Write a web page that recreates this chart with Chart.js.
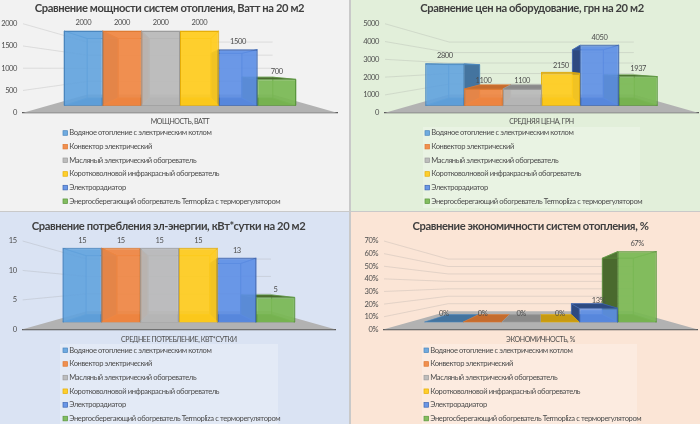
<!DOCTYPE html>
<html><head><meta charset="utf-8">
<script src="https://cdn.jsdelivr.net/npm/chart.js@4"></script>
<style>
html,body{margin:0;padding:0;width:700px;height:424px;overflow:hidden;background:#fff}
.p{position:absolute;overflow:hidden;width:350px;height:212px}
.p canvas{position:absolute;left:0;top:0;filter:blur(0.3px)}
.sep{position:absolute;background:#C9C9C9}
</style></head><body>
<div class="p" style="left:0;top:0;background:#F2F2F2"><canvas id="c1"></canvas></div>
<div class="p" style="left:350px;top:0;background:#E2EFDA"><canvas id="c2"></canvas></div>
<div class="p" style="left:0;top:212px;background:#DAE3F3"><canvas id="c3"></canvas></div>
<div class="p" style="left:350px;top:212px;background:#FBE5D6"><canvas id="c4"></canvas></div>
<div class="sep" style="left:349px;top:0;width:2px;height:424px"></div>
<div class="sep" style="left:0;top:211px;width:700px;height:1px"></div>
<script>
const seriesNames = [
  'Водяное отопление с электрическим котлом',
  'Конвектор электрический',
  'Масляный электрический обогреватель',
  'Коротковолновой инфракрасный обогреватель',
  'Электрорадиатор',
  'Энергосберегающий обогреватель Termopliza с терморегулятором'
];
const powerValues = [2000, 2000, 2000, 2000, 1500, 700];
const priceValues = [2800, 1100, 1100, 2150, 4050, 1937];
const energyValues = [15, 15, 15, 15, 13, 5];
const savingValues = [0, 0, 0, 0, 13, 67];

const fillColors = ['rgba(98,163,222,.9)','rgba(240,135,66,.92)','rgba(184,184,184,.92)','rgba(255,204,28,.92)','rgba(92,142,230,.9)','rgba(122,184,84,.92)'];
const edgeColors = ['#4A86BE','#DE7A32','#9C9C9C','#E6AE08','#3D66B2','#5B963E'];
const darkColors = ['#44749F','#C56C2E','#8A8A8A','#C79A12','#2E4A80','#4A6A2E'];
const FONT = 'Lato, "Open Sans", sans-serif';
const TEXT = '#4D4D4D';

const panels = [
 {id:'c1',title:'Сравнение мощности систем отопления, Ватт на 20 м2',axis:'МОЩНОСТЬ, ВАТТ',values:powerValues,max:2000,step:500,suffix:'',
  titleCx:169.5,left:23,right:337,top:23.7,bottom:112.7,labelGap:4.5,titleY:8.5,rowY:133,swX:63,box:null},
 {id:'c2',title:'Сравнение цен на оборудование, грн на 20 м2',axis:'СРЕДНЯЯ ЦЕНА, ГРН',values:priceValues,max:5000,step:1000,suffix:'',
  titleCx:182,left:35,right:348,top:23.7,bottom:112.7,labelGap:4.5,titleY:8.7,rowY:133,swX:75,box:[73,127,217,81]},
 {id:'c3',title:'Сравнение потребления эл-энергии, кВт*сутки на 20 м2',axis:'СРЕДНЕЕ ПОТРЕБЛЕНИЕ, КВТ*СУТКИ',values:energyValues,max:15,step:5,suffix:'',
  titleCx:168.5,left:22.7,right:335,top:29,bottom:117.3,labelGap:6,titleY:14,rowY:138.3,swX:63,box:[60,132,218,80]},
 {id:'c4',title:'Сравнение экономичности систем отопления, %',axis:'ЭКОНОМИЧНОСТЬ, %',values:savingValues,max:70,step:10,suffix:'%',
  titleCx:180.5,left:34,right:347,top:29,bottom:117.3,labelGap:6,titleY:14,rowY:138.3,swX:74,box:[72,132,215,80]}
];

const K_BAR = 0.2, K_WALL = 0.41;
const FRONT_OFFSET = 7.3;  // px between axis plane and bar fronts
const VP_ABOVE_BASE = 37;

function poly(ctx, pts, fill, stroke){
  ctx.beginPath();
  pts.forEach((p,i)=> i ? ctx.lineTo(p[0],p[1]) : ctx.moveTo(p[0],p[1]));
  ctx.closePath();
  if(fill){ctx.fillStyle=fill;ctx.fill();}
  if(stroke){ctx.strokeStyle=stroke;ctx.lineWidth=.6;ctx.stroke();}
}

const scene = {
  id:'scene',
  afterLayout(chart, args, o){
    // centre the title where the reference has it
    chart.titleBlock.left=0; chart.titleBlock.right=2*o.titleCx;
  },
  beforeDraw(chart, args, o){
    const ctx = chart.ctx;
    ctx.letterSpacing='-0.4px';
    if(o.box){ctx.save();ctx.fillStyle='rgba(255,255,255,.25)';ctx.fillRect(...o.box);ctx.restore();}
  },
  beforeDatasetsDraw(chart, args, o){
    const ctx = chart.ctx, a = chart.chartArea, ys = chart.scales.y, bs = chart.scales.y2;
    const metas = chart.data.datasets.map((d,i)=>chart.getDatasetMeta(i).data[0]);
    const baseY = bs.getPixelForValue(0);
    const vx = (metas[0].x + metas[5].x)/2, vy = baseY - VP_ABOVE_BASE;
    const wall = (x,y)=>[x+(vx-x)*K_WALL, y+(vy-y)*K_WALL];
    const bk = (x,y)=>[x+(vx-x)*K_BAR, y+(vy-y)*K_BAR];
    ctx.save();
    // floor
    poly(ctx,[[a.left,a.bottom],[a.right,a.bottom],wall(a.right,a.bottom),wall(a.left,a.bottom)],'#B2B2B2');
    // side and back wall grid lines
    ctx.strokeStyle='rgba(150,150,150,.3)';ctx.lineWidth=.8;
    ys.ticks.forEach(t=>{
      if(!t.value) return;
      const y=ys.getPixelForValue(t.value), p=wall(a.left,y), q=wall(a.right,y);
      ctx.beginPath();ctx.moveTo(a.left,y);ctx.lineTo(p[0],p[1]);ctx.lineTo(q[0],q[1]);ctx.stroke();
    });
    // bar depth faces, outermost first
    const order = metas.map((m,i)=>i).sort((i,j)=>Math.abs(metas[j].x-vx)-Math.abs(metas[i].x-vx));
    order.forEach(i=>{
      const m=metas[i], x0=m.x-m.width/2, x1=m.x+m.width/2, yt=m.y, yb=m.base;
      const d=darkColors[i], e=edgeColors[i], f=fillColors[i];
      const A=[x0,yt],B=[x1,yt],C=[x1,yb],D=[x0,yb];
      const bA=bk(...A),bB=bk(...B),bC=bk(...C),bD=bk(...D);
      if(yb>yt) poly(ctx,[bA,bB,bC,bD],'rgba(255,255,255,.1)',e);
      poly(ctx,[D,C,bC,bD],d,e);
      const hidden=f.replace(/[\d.]+\)$/,'.15)');
      if(yb>yt){
        poly(ctx,[A,bA,bD,D], x0>vx?d:hidden, e);
        poly(ctx,[B,bB,bC,C], x1<vx?d:hidden, e);
        poly(ctx,[A,B,bB,bA], yt>vy?d:hidden, e);
      }
    });
    ctx.restore();
  },
  afterDatasetsDraw(chart, args, o){
    const ctx = chart.ctx;
    ctx.save();
    ctx.font='7.5px '+FONT;ctx.fillStyle=TEXT;ctx.textAlign='center';ctx.textBaseline='middle';
    chart.data.datasets.forEach((d,i)=>{
      const m=chart.getDatasetMeta(i).data[0];
      ctx.fillText(d.data[0]+o.suffix, m.x, m.y-8);
    });
    // legend: one entry per row, from the datasets
    ctx.textAlign='left';ctx.font='7.6px '+FONT;
    chart.data.datasets.forEach((d,i)=>{
      const y=o.rowY+i*13.65;
      ctx.fillStyle=d.backgroundColor;ctx.strokeStyle=d.borderColor;ctx.lineWidth=.7;
      ctx.fillRect(o.swX,y-2.3,4.6,4.6);ctx.strokeRect(o.swX,y-2.3,4.6,4.6);
      ctx.fillStyle=TEXT;
      ctx.fillText(d.label,o.swX+6.3,y);
    });
    ctx.restore();
  }
};

panels.forEach(P=>{
  const W=350, H=212, span=P.bottom-P.top, unit=(span-2*FRONT_OFFSET)/P.max; // px per value for bar fronts
  const c=document.getElementById(P.id);
  c.width=W;c.height=H;c.style.width=W+'px';c.style.height=H+'px';
  new Chart(c,{
    type:'bar',
    data:{labels:[P.axis],datasets:seriesNames.map((n,i)=>({
      label:n,data:[P.values[i]],yAxisID:'y2',
      backgroundColor:fillColors[i],borderColor:edgeColors[i],borderWidth:1,
      categoryPercentage:232/(P.right-P.left),barPercentage:1}))},
    options:{
      responsive:false,animation:false,devicePixelRatio:1,
      layout:{padding:{left:0,right:W-P.right,top:0,bottom:0}},
      scales:{
        x:{grid:{display:false,drawTicks:false},border:{display:true,color:'#5A5A5A',width:1.3},
           ticks:{padding:P.labelGap,color:TEXT,font:{family:FONT,size:7}},
           afterFit(s){s.height=H-P.bottom;}},
        y:{min:0,max:P.max,grid:{display:false,drawTicks:false},border:{display:false},
           ticks:{stepSize:P.step,autoSkip:false,padding:6,color:TEXT,font:{family:FONT,size:7.5},callback:v=>v+P.suffix},
           afterFit(s){s.width=P.left;}},
        y2:{display:false,min:-FRONT_OFFSET/unit,max:(span-FRONT_OFFSET)/unit}
      },
      plugins:{
        legend:{display:false},tooltip:{enabled:false},
        title:{display:true,text:P.title,color:'#3F3F3F',font:{family:FONT,size:11.2,weight:'bold',lineHeight:1.2},
               padding:{top:P.titleY-6.7,bottom:P.top-(P.titleY+6.7)}},
        scene:{suffix:P.suffix,rowY:P.rowY,swX:P.swX,box:P.box,titleCx:P.titleCx}
      }
    },
    plugins:[scene]
  });
});
</script>
</body></html>
